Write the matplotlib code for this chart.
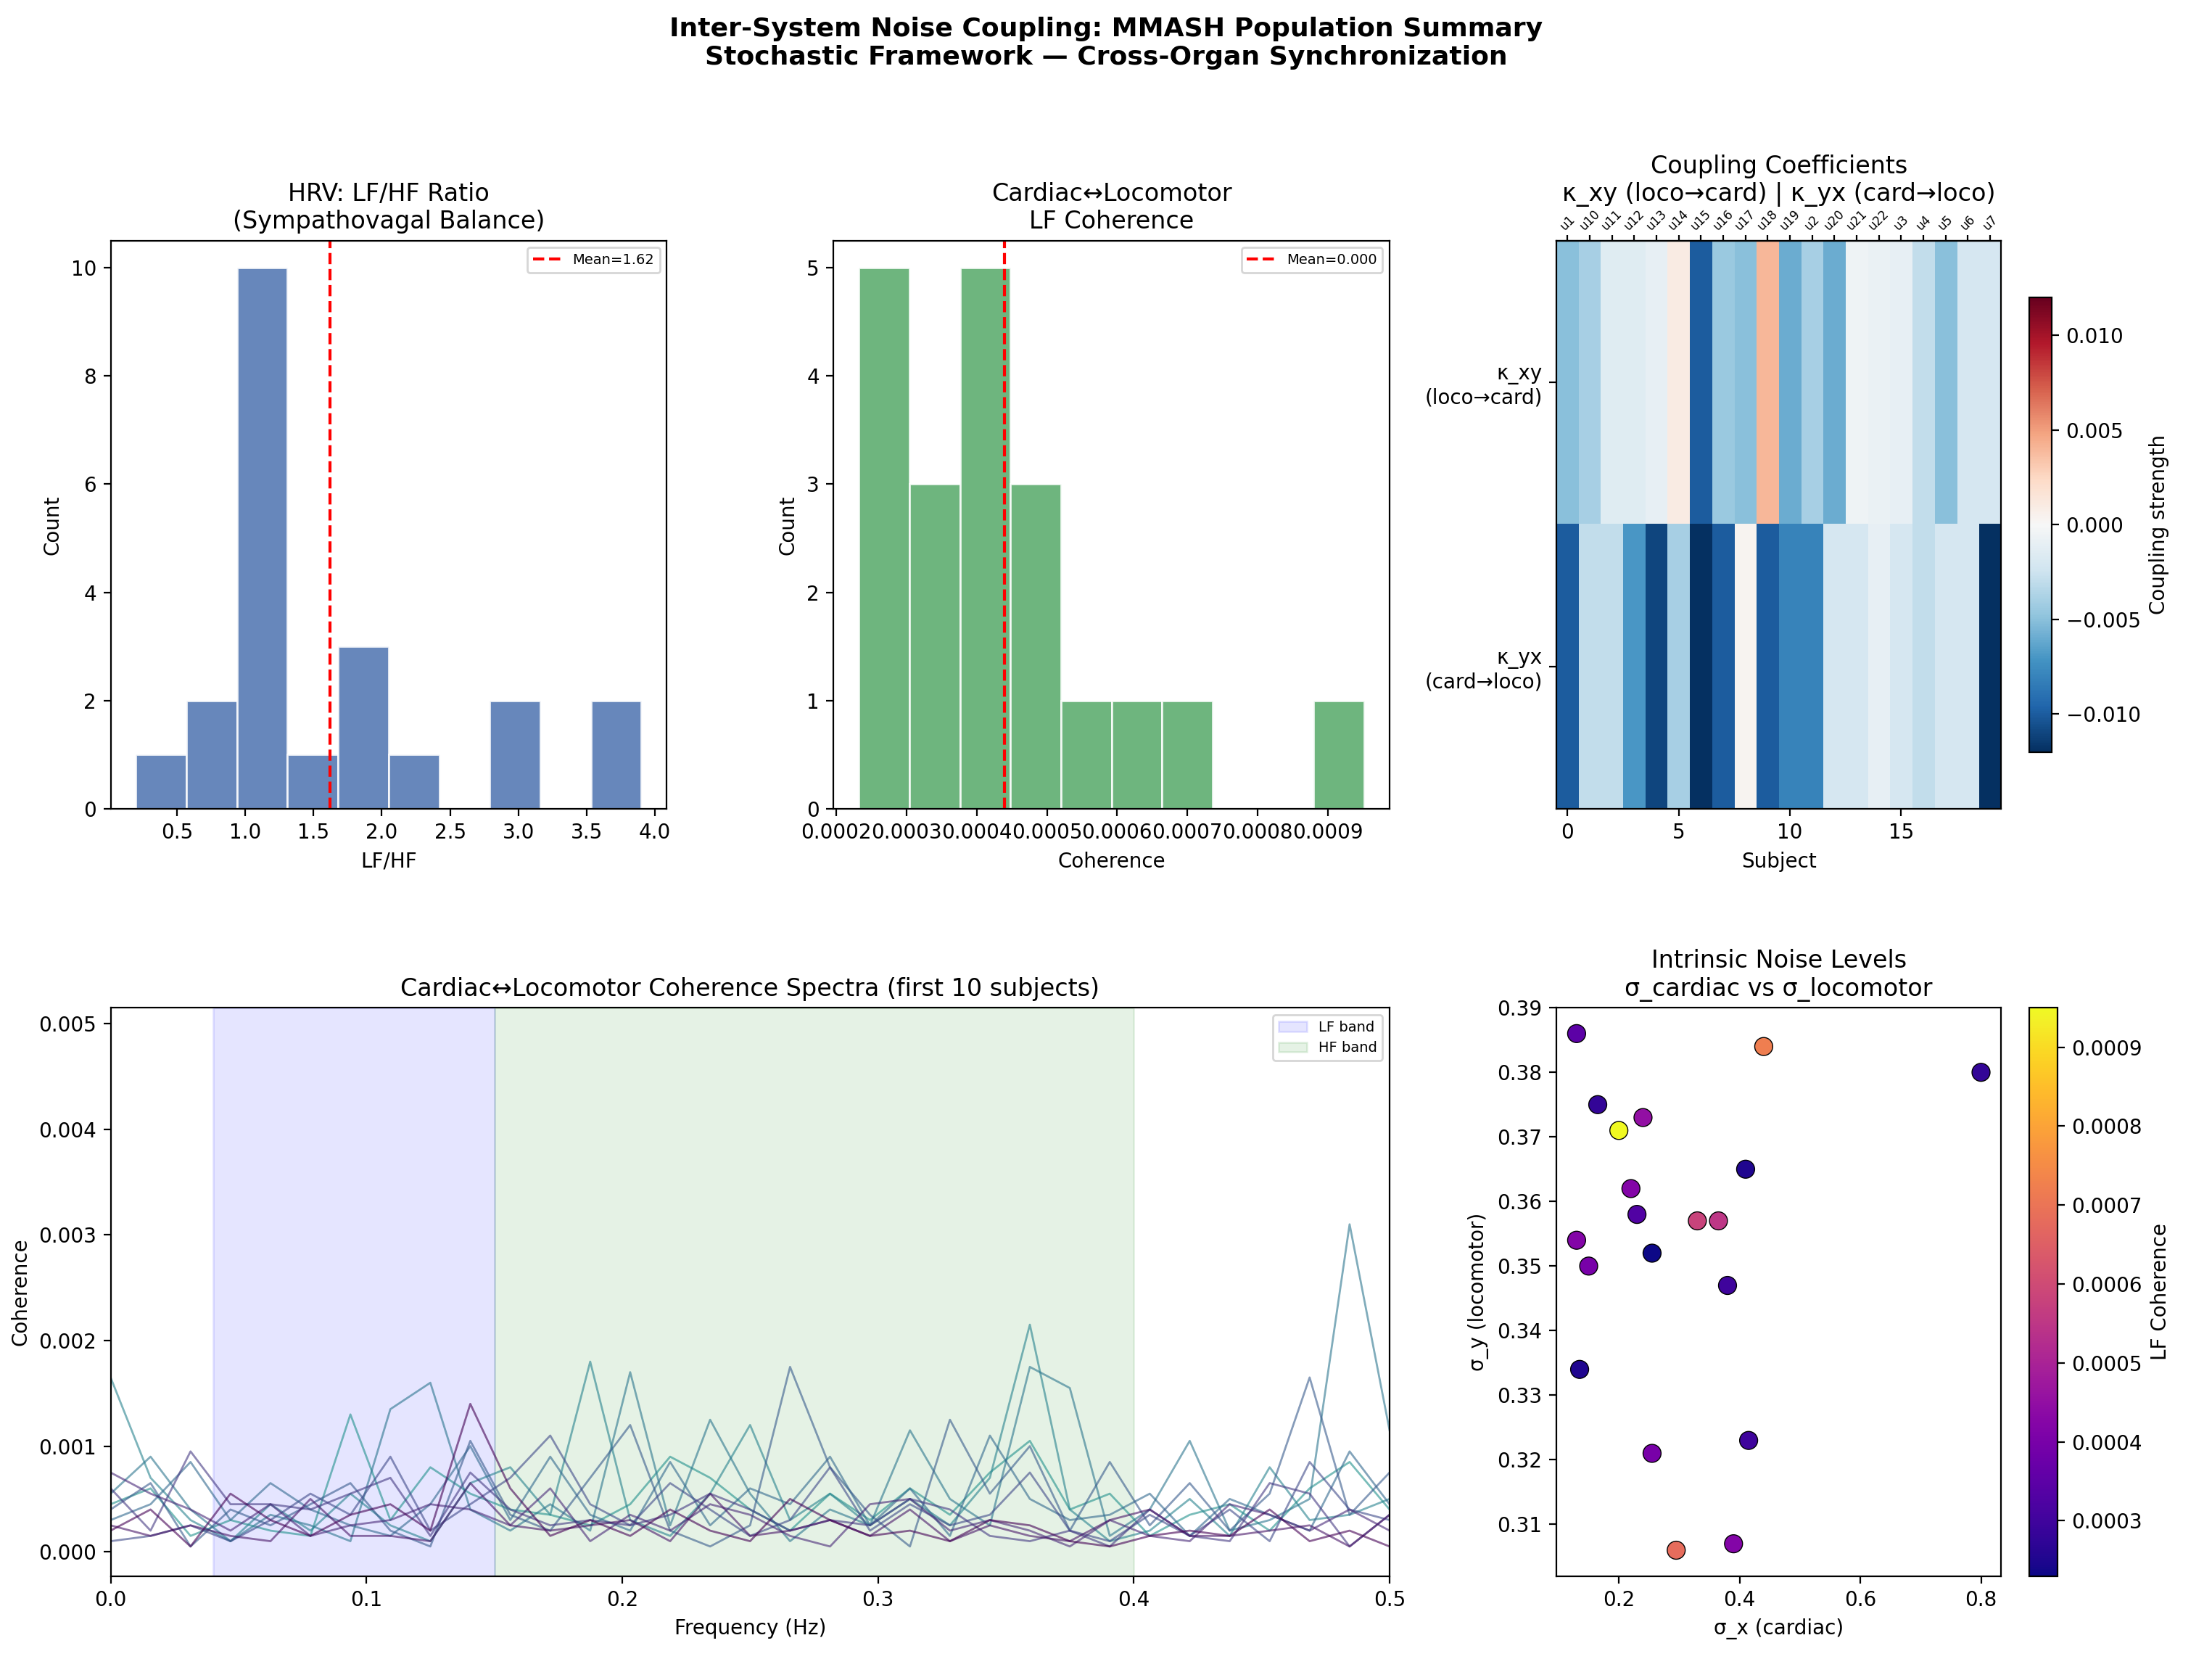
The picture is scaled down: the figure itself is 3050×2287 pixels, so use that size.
import numpy as np
import matplotlib
matplotlib.use("Agg")
import matplotlib.pyplot as plt
from matplotlib.gridspec import GridSpec

lfhf_values = [0.35, 0.7, 0.8, 0.95, 1.0, 1.05, 1.1, 1.1, 1.15, 1.2, 1.2, 1.25, 1.3,
               1.45, 1.75, 1.85, 1.95, 2.2, 2.9, 3.0, 3.7, 3.8]
lfhf_edges = [0.2, 0.57, 0.94, 1.31, 1.68, 2.05, 2.42, 2.79, 3.16, 3.53, 3.9]

coh_values = [0.00024, 0.00025, 0.00026, 0.00028, 0.00030, 0.00033, 0.00035, 0.00037,
              0.00039, 0.00040, 0.00041, 0.00043, 0.00044, 0.00046, 0.00048, 0.00050,
              0.00055, 0.00062, 0.00069, 0.00093]
coh_edges = [0.000232, 0.000304, 0.000376, 0.000448, 0.00052, 0.000592, 0.000664,
             0.000736, 0.000808, 0.00088, 0.000952]

subjects = ["u1", "u10", "u11", "u12", "u13", "u14", "u15", "u16", "u17", "u18",
            "u19", "u2", "u20", "u21", "u22", "u3", "u4", "u5", "u6", "u7"]
kappa_xy = [-0.005, -0.004, -0.0015, -0.0015, -0.001, 0.001, -0.010, -0.0045, -0.005, 0.004,
            -0.006, -0.004, -0.006, -0.0005, -0.0008, -0.001, -0.003, -0.005, -0.002, -0.002]
kappa_yx = [-0.010, -0.003, -0.003, -0.007, -0.011, -0.004, -0.012, -0.010, 0.0003, -0.010,
            -0.008, -0.008, -0.002, -0.002, -0.001, -0.002, -0.003, -0.002, -0.002, -0.012]

sigma_x = [0.13, 0.165, 0.20, 0.24, 0.44, 0.80, 0.41, 0.22, 0.23, 0.13,
           0.15, 0.255, 0.33, 0.365, 0.38, 0.135, 0.415, 0.255, 0.295, 0.39]
sigma_y = [0.386, 0.375, 0.371, 0.373, 0.384, 0.380, 0.365, 0.362, 0.358, 0.354,
           0.350, 0.352, 0.357, 0.357, 0.347, 0.334, 0.323, 0.321, 0.306, 0.307]
lf_coh = [0.00035, 0.00028, 0.00095, 0.00045, 0.00072, 0.00028, 0.00025, 0.00042, 0.00033, 0.00042,
          0.00040, 0.00023, 0.00058, 0.00055, 0.00030, 0.00025, 0.00030, 0.00040, 0.00068, 0.00042]

freqs = [i / 64 for i in range(33)]
spectra_mE3 = [
    [0.45, 0.60, 0.15, 0.30, 0.20, 0.15, 1.30, 0.30, 0.80, 0.55, 0.40, 0.35, 0.25, 0.45, 0.90, 0.70, 0.40, 0.20, 0.55, 0.30, 0.60, 0.35, 0.75, 1.05, 0.40, 0.55, 0.15, 0.35, 0.45, 0.20, 0.60, 0.85, 0.40],
    [1.65, 0.70, 0.30, 0.10, 0.45, 0.20, 0.55, 0.25, 0.10, 0.65, 0.80, 0.35, 1.80, 0.30, 0.15, 0.55, 1.20, 0.30, 0.55, 0.25, 0.50, 0.25, 0.70, 2.15, 0.40, 0.10, 0.20, 0.50, 0.15, 0.80, 0.30, 0.35, 0.50],
    [0.55, 0.90, 0.40, 0.10, 0.35, 0.25, 0.10, 1.35, 1.60, 0.40, 0.20, 0.45, 0.20, 1.70, 0.25, 1.25, 0.55, 0.10, 0.40, 0.25, 1.15, 0.50, 0.25, 1.75, 1.55, 0.15, 0.40, 1.05, 0.20, 0.30, 0.50, 3.10, 1.15],
    [0.30, 0.45, 0.85, 0.30, 0.65, 0.40, 0.25, 0.15, 0.45, 1.00, 0.30, 0.90, 0.35, 0.20, 0.85, 0.25, 0.60, 0.45, 0.90, 0.25, 0.60, 0.15, 1.10, 0.50, 0.30, 0.35, 0.55, 0.15, 0.50, 0.35, 0.20, 0.95, 0.45],
    [0.40, 0.65, 0.05, 0.40, 0.25, 0.45, 0.65, 0.20, 0.05, 1.05, 0.35, 0.20, 0.70, 1.20, 0.20, 0.05, 0.25, 1.75, 0.80, 0.35, 0.05, 1.25, 0.55, 1.00, 0.20, 0.85, 0.25, 0.65, 0.20, 0.55, 1.65, 0.35, 0.75],
    [0.10, 0.15, 0.25, 0.10, 0.30, 0.55, 0.35, 0.90, 0.20, 0.45, 0.70, 1.10, 0.45, 0.25, 0.65, 0.40, 0.15, 0.30, 0.80, 0.20, 0.45, 0.25, 0.35, 0.75, 0.20, 0.10, 0.35, 0.15, 0.40, 0.10, 0.85, 0.40, 0.30],
    [0.60, 0.20, 0.95, 0.45, 0.45, 0.40, 0.55, 0.70, 0.15, 0.75, 0.40, 0.25, 0.30, 0.25, 0.35, 0.55, 0.40, 0.20, 0.30, 0.25, 0.50, 0.40, 0.15, 0.10, 0.20, 0.05, 0.40, 0.15, 0.10, 0.65, 0.55, 0.05, 0.35],
    [0.75, 0.55, 0.40, 0.20, 0.45, 0.15, 0.25, 0.30, 0.45, 0.40, 0.25, 0.60, 0.10, 0.35, 0.20, 0.45, 0.35, 0.15, 0.05, 0.45, 0.50, 0.20, 0.30, 0.20, 0.05, 0.30, 0.15, 0.10, 0.45, 0.35, 0.20, 0.40, 0.20],
    [0.25, 0.15, 0.25, 0.15, 0.10, 0.50, 0.15, 0.15, 0.10, 0.65, 0.25, 0.20, 0.25, 0.30, 0.10, 0.55, 0.15, 0.20, 0.30, 0.15, 0.40, 0.10, 0.25, 0.15, 0.10, 0.30, 0.40, 0.15, 0.15, 0.20, 0.25, 0.05, 0.35],
    [0.20, 0.40, 0.05, 0.55, 0.30, 0.15, 0.35, 0.45, 0.20, 1.40, 0.60, 0.15, 0.30, 0.15, 0.40, 0.20, 0.10, 0.50, 0.30, 0.15, 0.20, 0.10, 0.30, 0.25, 0.10, 0.05, 0.15, 0.20, 0.15, 0.40, 0.10, 0.20, 0.05],
]

fig = plt.figure(figsize=(15.25, 11.435), dpi=200)
gs = GridSpec(2, 3, figure=fig, left=0.05, right=0.955, top=0.855, bottom=0.05,
              hspace=0.35, wspace=0.3)
fig.suptitle("Inter-System Noise Coupling: MMASH Population Summary\nStochastic Framework — Cross-Organ Synchronization",
             fontsize=13, fontweight="bold", y=0.99)

ax1 = fig.add_subplot(gs[0, 0])
ax1.hist(lfhf_values, bins=lfhf_edges, color="#4c72b0", alpha=0.85, edgecolor="white")
ax1.axvline(1.62, color="red", ls="--", lw=1.5, label="Mean=1.62")
ax1.set_xticks([0.5, 1.0, 1.5, 2.0, 2.5, 3.0, 3.5, 4.0])
ax1.set_title("HRV: LF/HF Ratio\n(Sympathovagal Balance)")
ax1.set_xlabel("LF/HF"); ax1.set_ylabel("Count")
ax1.legend(fontsize=7)

ax2 = fig.add_subplot(gs[0, 1])
ax2.hist(coh_values, bins=coh_edges, color="#55a868", alpha=0.85, edgecolor="white")
ax2.axvline(0.00044, color="red", ls="--", lw=1.5, label="Mean=0.000")
ax2.set_title("Cardiac↔Locomotor\nLF Coherence")
ax2.set_xlabel("Coherence"); ax2.set_ylabel("Count")
ax2.legend(fontsize=7)

ax3 = fig.add_subplot(gs[0, 2])
K = np.array([kappa_xy, kappa_yx])
vm = np.abs(K).max()
im = ax3.imshow(K, aspect="auto", cmap="RdBu_r", vmin=-vm, vmax=vm)
ax3.set_yticks([0, 1])
ax3.set_yticklabels(["κ_xy\n(loco→card)", "κ_yx\n(card→loco)"])
ax3.set_xlabel("Subject")
ax3.set_xticks([0, 5, 10, 15])
top = ax3.secondary_xaxis("top")
top.set_xticks(range(len(subjects)))
top.set_xticklabels(subjects, rotation=45, fontsize=6)
top.tick_params(length=3, pad=1)
ax3.set_title("Coupling Coefficients\nκ_xy (loco→card) | κ_yx (card→loco)", pad=2)
cb = fig.colorbar(im, ax=ax3, shrink=0.8)
cb.set_label("Coupling strength")

ax4 = fig.add_subplot(gs[1, 0:2])
ax4.axvspan(0.04, 0.15, color="blue", alpha=0.1, label="LF band")
ax4.axvspan(0.15, 0.4, color="green", alpha=0.1, label="HF band")
cols = plt.cm.viridis(np.linspace(0.5, 0, len(spectra_mE3)))
for s, c in zip(spectra_mE3, cols):
    ax4.plot(freqs, np.array(s) * 1e-3, color=c, alpha=0.6, lw=1)
ax4.set_xlim(0, 0.5)
ax4.set_ylim(-0.00023, 0.00515)
ax4.set_title("Cardiac↔Locomotor Coherence Spectra (first 10 subjects)")
ax4.set_xlabel("Frequency (Hz)"); ax4.set_ylabel("Coherence")
ax4.legend(fontsize=7, loc="upper right")

ax5 = fig.add_subplot(gs[1, 2])
sc = ax5.scatter(sigma_x, sigma_y, c=lf_coh, cmap="plasma", s=80, edgecolors="k", lw=0.5)
ax5.set_title("Intrinsic Noise Levels\nσ_cardiac vs σ_locomotor")
ax5.set_xlabel("σ_x (cardiac)"); ax5.set_ylabel("σ_y (locomotor)")
cb2 = fig.colorbar(sc, ax=ax5)
cb2.set_label("LF Coherence")

fig.savefig("out.png", dpi=200)
